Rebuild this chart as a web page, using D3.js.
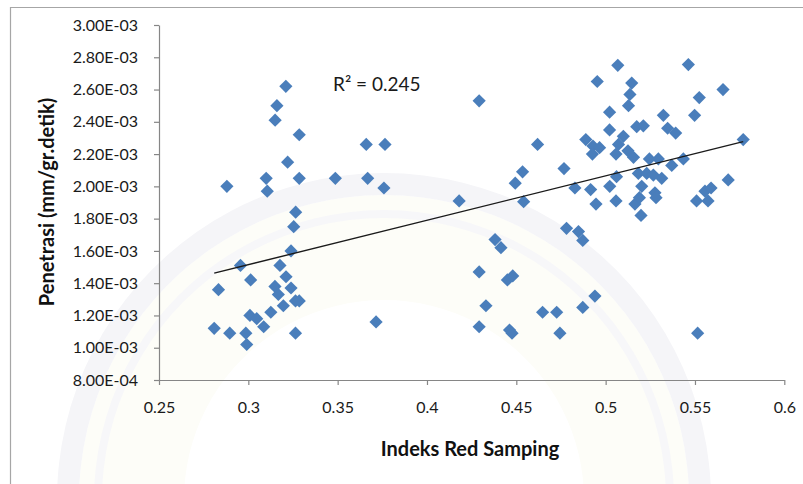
<!DOCTYPE html>
<html>
<head>
<meta charset="utf-8">
<script src="https://cdn.jsdelivr.net/npm/d3@7"></script>
<style>
  html, body { margin: 0; padding: 0; background: #ffffff; }
  svg { display: block; font-family: Lato, "Open Sans", sans-serif; }
</style>
</head>
<body>
<svg id="chart" width="803" height="484"></svg>
<script>
// Indeks Red Samping (x) against Penetrasi in mm/gr.detik (y)
const indeksRed = [
  0.321, 0.316, 0.315, 0.3285, 0.366, 0.3765, 0.322, 0.288, 0.310, 0.3106,
  0.3285, 0.3487, 0.3668, 0.3759, 0.3265, 0.3254, 0.3239, 0.2956, 0.3177, 0.3013,
  0.3211, 0.2833, 0.3149, 0.3239, 0.3168, 0.3264, 0.3285, 0.3196, 0.3126, 0.3009,
  0.3047, 0.3086, 0.2809, 0.2896, 0.2986, 0.3264, 0.2991, 0.3715,
  0.4292, 0.4619, 0.4767, 0.4535, 0.4494, 0.418, 0.4541, 0.4781, 0.4848, 0.4872,
  0.4381, 0.4414, 0.4292, 0.445, 0.448, 0.433, 0.4647, 0.4726, 0.4292, 0.4462,
  0.4476, 0.4744, 0.4872, 0.494, 0.5515,
  0.5068, 0.5463, 0.4953, 0.5146, 0.5657, 0.5524, 0.5136, 0.5128, 0.5022, 0.5323,
  0.5498, 0.5022, 0.5174, 0.5211, 0.5347, 0.5392, 0.4889, 0.4929, 0.4966, 0.4926,
  0.5099, 0.5072, 0.5125, 0.5058, 0.5156, 0.5245, 0.5295, 0.5435, 0.577, 0.537,
  0.5061, 0.5183, 0.523, 0.5267, 0.5314, 0.4828, 0.4916, 0.5023, 0.5202, 0.5276,
  0.5282, 0.5686, 0.5556, 0.559, 0.5509, 0.5573, 0.4946, 0.5058, 0.5164, 0.5189,
  0.5198
];
const penetrasi = [
  2.62e-3, 2.50e-3, 2.41e-3, 2.32e-3, 2.26e-3, 2.26e-3, 2.15e-3, 2.00e-3, 2.05e-3, 1.97e-3,
  2.05e-3, 2.05e-3, 2.05e-3, 1.99e-3, 1.84e-3, 1.75e-3, 1.60e-3, 1.51e-3, 1.51e-3, 1.42e-3,
  1.44e-3, 1.36e-3, 1.38e-3, 1.37e-3, 1.33e-3, 1.29e-3, 1.29e-3, 1.26e-3, 1.22e-3, 1.20e-3,
  1.18e-3, 1.13e-3, 1.12e-3, 1.09e-3, 1.09e-3, 1.09e-3, 1.02e-3, 1.16e-3,
  2.53e-3, 2.26e-3, 2.11e-3, 2.09e-3, 2.02e-3, 1.91e-3, 1.905e-3, 1.74e-3, 1.72e-3, 1.665e-3,
  1.67e-3, 1.62e-3, 1.47e-3, 1.42e-3, 1.445e-3, 1.26e-3, 1.22e-3, 1.22e-3, 1.13e-3, 1.11e-3,
  1.09e-3, 1.09e-3, 1.25e-3, 1.32e-3, 1.09e-3,
  2.75e-3, 2.755e-3, 2.65e-3, 2.64e-3, 2.60e-3, 2.55e-3, 2.57e-3, 2.50e-3, 2.46e-3, 2.44e-3,
  2.44e-3, 2.35e-3, 2.37e-3, 2.375e-3, 2.36e-3, 2.33e-3, 2.29e-3, 2.25e-3, 2.24e-3, 2.20e-3,
  2.31e-3, 2.26e-3, 2.22e-3, 2.20e-3, 2.18e-3, 2.17e-3, 2.17e-3, 2.17e-3, 2.29e-3, 2.13e-3,
  2.06e-3, 2.08e-3, 2.08e-3, 2.07e-3, 2.05e-3, 1.99e-3, 1.98e-3, 2.00e-3, 2.00e-3, 1.96e-3,
  1.93e-3, 2.04e-3, 1.97e-3, 1.99e-3, 1.91e-3, 1.91e-3, 1.89e-3, 1.91e-3, 1.89e-3, 1.93e-3,
  1.82e-3
];

// linear trend line of the series: penetrasi = intercept + slope * indeksRed
const trendIntercept = 0.6893e-3;
const trendSlope = 2.7514e-3;
const r2Label = "R\u00B2 = 0.245";

const xTickValues = [0.25, 0.3, 0.35, 0.4, 0.45, 0.5, 0.55, 0.6];
const xTickLabels = ["0.25", "0.3", "0.35", "0.4", "0.45", "0.5", "0.55", "0.6"];
const yTickValues = [0.8e-3, 1.0e-3, 1.2e-3, 1.4e-3, 1.6e-3, 1.8e-3, 2.0e-3, 2.2e-3, 2.4e-3, 2.6e-3, 2.8e-3, 3.0e-3];
const yTickLabels = ["8.00E-04", "1.00E-03", "1.20E-03", "1.40E-03", "1.60E-03", "1.80E-03",
                     "2.00E-03", "2.20E-03", "2.40E-03", "2.60E-03", "2.80E-03", "3.00E-03"];

const xTitle = "Indeks Red Samping";
const yTitle = "Penetrasi (mm/gr.detik)";

const svg = d3.select("#chart");
const W = 803, H = 484;

const x = d3.scaleLinear().domain([0.25, 0.6]).range([159, 784.3]);
const y = d3.scaleLinear().domain([0.8e-3, 3.0e-3]).range([380, 25]);

// faint background emblem rings behind the plot
const emblem = svg.append("g").attr("transform", "translate(384,500)");
const ring = (r0, r1) => d3.arc()({innerRadius: r0, outerRadius: r1, startAngle: -Math.PI * 0.62, endAngle: Math.PI * 0.62});
emblem.append("path").attr("d", ring(200, 305)).attr("fill", "#fdfdf8");
emblem.append("path").attr("d", ring(305, 327)).attr("fill", "#f5f5f8");
emblem.append("path").attr("d", ring(282, 290)).attr("fill", "#f7f7f9");

// outer chart frame
svg.append("path")
  .attr("d", `M10.5,${H + 2} V7.5 H${W + 2}`)
  .attr("fill", "none").attr("stroke", "#a6a6a6").attr("stroke-width", 1.2);

// axes
const axisColor = "#868686";
const xAxis = svg.append("g").attr("transform", `translate(0,${y(0.8e-3)})`)
  .call(d3.axisBottom(x).tickValues(xTickValues).tickFormat((d, i) => xTickLabels[i]).tickSize(5).tickSizeOuter(0));
const yAxis = svg.append("g").attr("transform", `translate(${x(0.25)},0)`)
  .call(d3.axisLeft(y).tickValues(yTickValues).tickFormat((d, i) => yTickLabels[i]).tickSize(5).tickSizeOuter(0));
[xAxis, yAxis].forEach(g => {
  g.select(".domain").attr("stroke", axisColor).attr("stroke-width", 1.2);
  g.selectAll(".tick line").attr("stroke", axisColor).attr("stroke-width", 1.2);
  g.selectAll(".tick text").attr("fill", "#1a1a1a").attr("font-size", 16)
    .attr("font-family", "Lato, sans-serif");
});
xAxis.selectAll(".tick text").attr("dy", null).attr("y", 33);
yAxis.selectAll(".tick text").attr("x", -21);

// data points as diamonds
const diamond = {
  draw(ctx, size) {
    const r = Math.sqrt(size / 2);
    ctx.moveTo(0, -r); ctx.lineTo(r, 0); ctx.lineTo(0, r); ctx.lineTo(-r, 0); ctx.closePath();
  }
};
const points = indeksRed.map((v, i) => ({x: v, y: penetrasi[i]}));
svg.append("g").selectAll("path").data(points).join("path")
  .attr("transform", d => `translate(${x(d.x)},${y(d.y)})`)
  .attr("d", d3.symbol(diamond, 2 * 6.6 * 6.6))
  .attr("fill", "#4a7ebb");

// trend line across the data range
const [x0, x1] = d3.extent(indeksRed);
svg.append("line")
  .attr("x1", x(x0)).attr("y1", y(trendIntercept + trendSlope * x0))
  .attr("x2", x(x1)).attr("y2", y(trendIntercept + trendSlope * x1))
  .attr("stroke", "#1a1a1a").attr("stroke-width", 1.4);

// labels
svg.append("text").attr("x", 333).attr("y", 91).attr("font-size", 19)
  .attr("fill", "#1a1a1a").text(r2Label);
svg.append("text").attr("x", 470).attr("y", 456).attr("text-anchor", "middle")
  .attr("font-size", 20).attr("font-weight", "bold").attr("fill", "#111").text(xTitle);
svg.append("text").attr("transform", "translate(54,202) rotate(-90)").attr("text-anchor", "middle")
  .attr("font-size", 20).attr("font-weight", "bold").attr("fill", "#111").text(yTitle);
</script>
</body>
</html>
